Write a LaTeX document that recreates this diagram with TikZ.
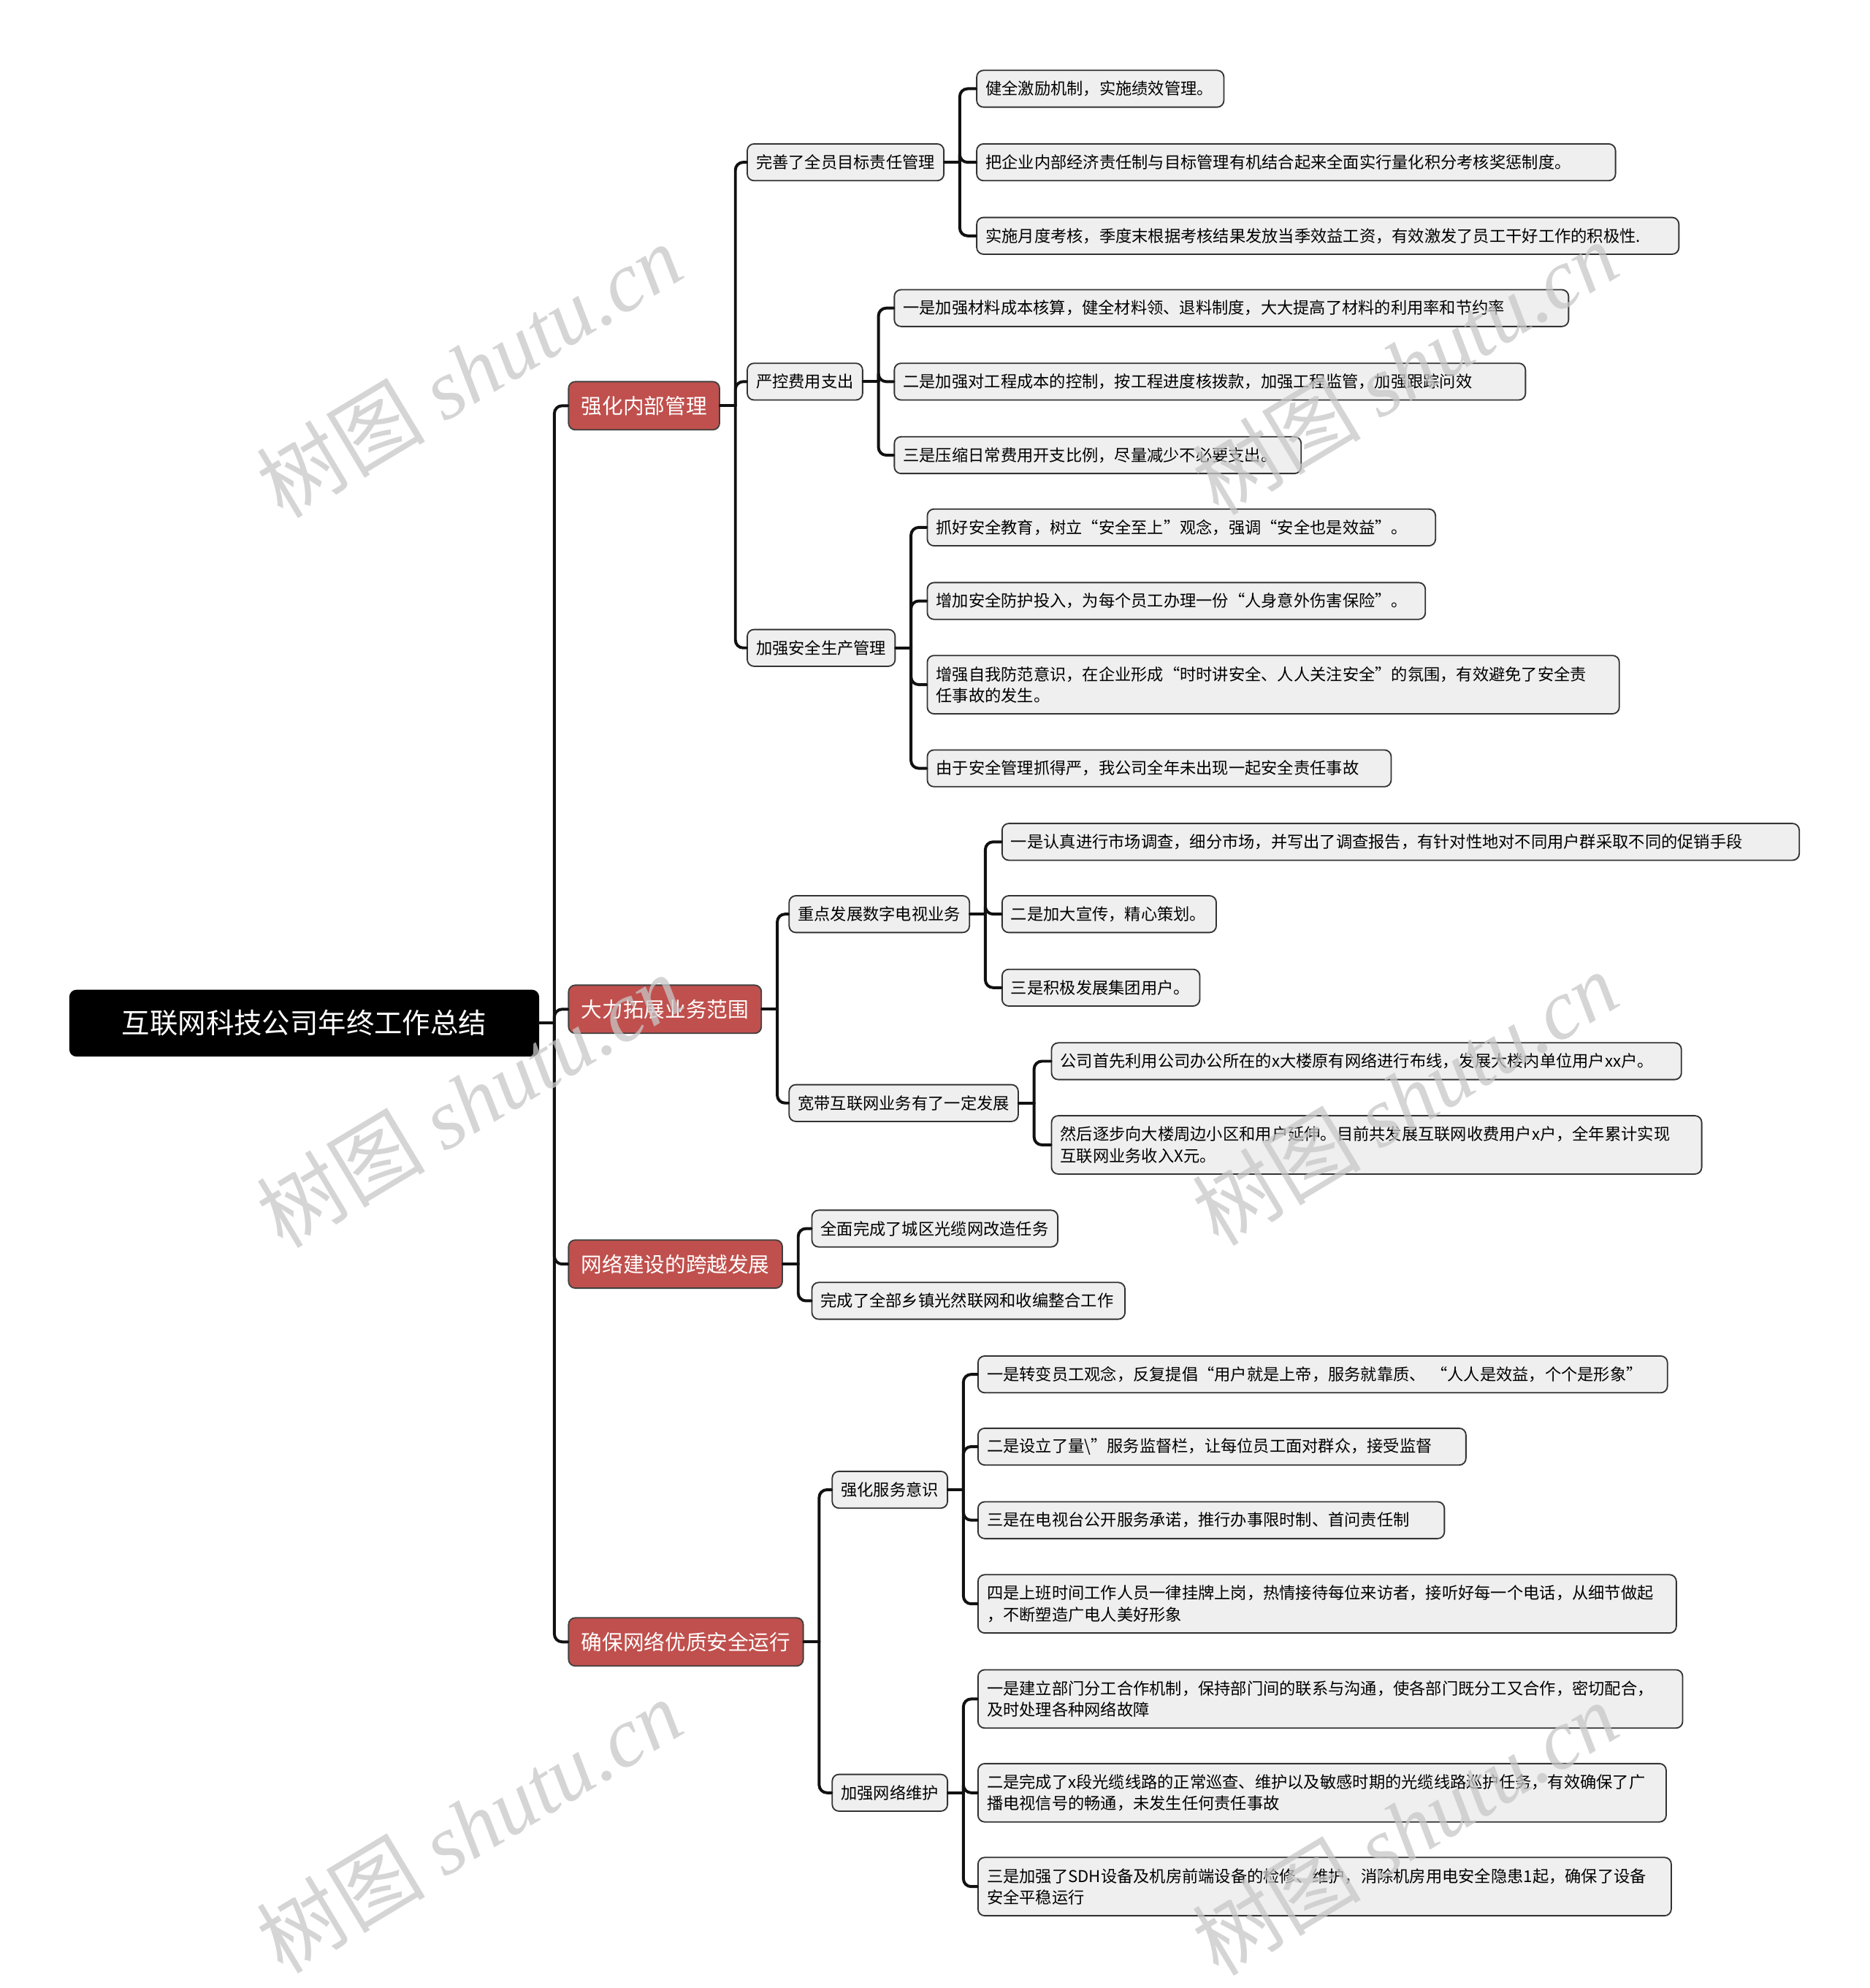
\documentclass[tikz,border=0pt]{standalone}
\usepackage{fontspec}
\setmainfont{Noto Sans CJK SC}
\newfontfamily\wmcjk{Noto Sans CJK SC}
\newfontfamily\wmlat{Liberation Serif}
\definecolor{topicred}{HTML}{C0504D}
\definecolor{leafgrey}{HTML}{EFEFEF}
\definecolor{linkblack}{HTML}{111111}

\tikzset{
  rootbox/.style={fill=black, draw=black, text=white, rounded corners=3pt,
    font=\fontsize{12.6}{15}\selectfont, minimum width=7.4cm, minimum height=1.04cm},
  mainbox/.style={fill=topicred, draw=black!75, line width=0.6pt, text=white, rounded corners=3pt,
    font=\fontsize{9.4}{11}\selectfont, inner xsep=0.2cm, minimum height=0.76cm, anchor=west},
  subbox/.style={fill=leafgrey, draw=black!80, line width=0.6pt, rounded corners=3pt,
    font=\fontsize{7.3}{9.6}\selectfont, inner xsep=0.14cm, minimum height=0.58cm, anchor=west},
  leafbox/.style={subbox, align=left, text width=#1},
  twoline/.style={minimum height=0.92cm},
  link/.style={draw=linkblack, line width=1.3pt, rounded corners=3.5pt, line cap=round},
  watermark/.style={rotate=31, text=black!22, text opacity=0.75, inner sep=0pt,
    font=\fontsize{38}{38}\selectfont}
}

\begin{document}
\begin{tikzpicture}[x=0.02cm, y=-0.02cm]

% Canvas
\useasboundingbox (0,0) rectangle (1475,1568);
\fill[white] (0,0) rectangle (1475,1568);

% Root
\node[rootbox] (root) at (240,807) {互联网科技公司年终工作总结};

% --- Main topics ---
\node[mainbox] (internal) at (448,320) {强化内部管理};
\node[mainbox] (expand) at (448,796) {大力拓展业务范围};
\node[mainbox] (network) at (448,997) {网络建设的跨越发展};
\node[mainbox] (secure) at (448,1295) {确保网络优质安全运行};

% --- Sub topics ---
\node[subbox] (target) at (589,128) {完善了全员目标责任管理};
\node[subbox] (cost) at (589,301) {严控费用支出};
\node[subbox] (safety) at (589,511) {加强安全生产管理};
\node[subbox] (tv) at (622,721) {重点发展数字电视业务};
\node[subbox] (broadband) at (622,870) {宽带互联网业务有了一定发展};
\node[subbox] (service) at (656,1175) {强化服务意识};
\node[subbox] (maint) at (656,1414) {加强网络维护};

% --- Leaves: target
\node[leafbox=3.62cm] (target1) at (770,70) {健全激励机制，实施绩效管理。};
\node[leafbox=9.80cm] (target2) at (770,128) {把企业内部经济责任制与目标管理有机结合起来全面实行量化积分考核奖惩制度。};
\node[leafbox=10.80cm] (target3) at (770,186) {实施月度考核，季度末根据考核结果发放当季效益工资，有效激发了员工干好工作的积极性.};

% --- Leaves: cost
\node[leafbox=10.36cm] (cost1) at (705,243) {一是加强材料成本核算，健全材料领、退料制度，大大提高了材料的利用率和节约率};
\node[leafbox=9.68cm] (cost2) at (705,301) {二是加强对工程成本的控制，按工程进度核拨款，加强工程监管，加强跟踪问效};
\node[leafbox=6.14cm] (cost3) at (705,359) {三是压缩日常费用开支比例，尽量减少不必要支出。};

% --- Leaves: safety
\node[leafbox=7.74cm] (safety1) at (731,416) {抓好安全教育，树立“安全至上”观念，强调“安全也是效益”。};
\node[leafbox=7.58cm] (safety2) at (731,474) {增加安全防护投入，为每个员工办理一份“人身意外伤害保险”。};
\node[leafbox=10.64cm, twoline] (safety3) at (731,540) {增强自我防范意识，在企业形成“时时讲安全、人人关注安全”的氛围，有效避免了安全责\\任事故的发生。};
\node[leafbox=7.04cm] (safety4) at (731,606) {由于安全管理抓得严，我公司全年未出现一起安全责任事故};

% --- Leaves: tv
\node[leafbox=12.30cm] (tv1) at (790,664) {一是认真进行市场调查，细分市场，并写出了调查报告，有针对性地对不同用户群采取不同的促销手段};
\node[leafbox=3.10cm] (tv2) at (790,721) {二是加大宣传，精心策划。};
\node[leafbox=2.84cm] (tv3) at (790,779) {三是积极发展集团用户。};

% --- Leaves: broadband
\node[leafbox=9.66cm] (broadband1) at (829,837) {公司首先利用公司办公所在的x大楼原有网络进行布线，发展大楼内单位用户xx户。};
\node[leafbox=9.98cm, twoline] (broadband2) at (829,903) {然后逐步向大楼周边小区和用户延伸。目前共发展互联网收费用户x户，全年累计实现\\互联网业务收入X元。};

% --- Leaves: network
\node[leafbox=3.60cm] (network1) at (640,969) {全面完成了城区光缆网改造任务};
\node[leafbox=4.66cm] (network2) at (640,1026) {完成了全部乡镇光然联网和收编整合工作};

% --- Leaves: service
\node[leafbox=10.60cm] (service1) at (771,1084) {一是转变员工观念，反复提倡“用户就是上帝，服务就靠质、 “人人是效益，个个是形象”};
\node[leafbox=7.42cm] (service2) at (771,1141) {二是设立了量\textbackslash"服务监督栏，让每位员工面对群众，接受监督};
\node[leafbox=7.08cm] (service3) at (771,1199) {三是在电视台公开服务承诺，推行办事限时制、首问责任制};
\node[leafbox=10.74cm, twoline] (service4) at (771,1265) {四是上班时间工作人员一律挂牌上岗，热情接待每位来访者，接听好每一个电话，从细节做起\\，不断塑造广电人美好形象};

% --- Leaves: maint
\node[leafbox=10.84cm, twoline] (maint1) at (771,1340) {一是建立部门分工合作机制，保持部门间的联系与沟通，使各部门既分工又合作，密切配合，\\及时处理各种网络故障};
\node[leafbox=10.58cm, twoline] (maint2) at (771,1414) {二是完成了x段光缆线路的正常巡查、维护以及敏感时期的光缆线路巡护任务，有效确保了广\\播电视信号的畅通，未发生任何责任事故};
\node[leafbox=10.66cm, twoline] (maint3) at (771,1488) {三是加强了SDH设备及机房前端设备的检修、维护，消除机房用电安全隐患1起，确保了设备\\安全平稳运行};

% --- Connectors ---
\draw[link] (root.east) -- ++(12,0) coordinate (rootj);
\foreach \c in {internal,expand,network,secure}
  \draw[link] (rootj) |- (\c.west);

\draw[link] (internal.east) -- ++(12,0) coordinate (internalj);
\foreach \c in {target,cost,safety}
  \draw[link] (internalj) |- (\c.west);

\draw[link] (expand.east) -- ++(12,0) coordinate (expandj);
\foreach \c in {tv,broadband}
  \draw[link] (expandj) |- (\c.west);

\draw[link] (network.east) -- ++(12,0) coordinate (networkj);
\foreach \c in {network1,network2}
  \draw[link] (networkj) |- (\c.west);

\draw[link] (secure.east) -- ++(12,0) coordinate (securej);
\foreach \c in {service,maint}
  \draw[link] (securej) |- (\c.west);

\draw[link] (target.east) -- ++(12,0) coordinate (targetj);
\foreach \c in {target1,target2,target3}
  \draw[link] (targetj) |- (\c.west);

\draw[link] (cost.east) -- ++(12,0) coordinate (costj);
\foreach \c in {cost1,cost2,cost3}
  \draw[link] (costj) |- (\c.west);

\draw[link] (safety.east) -- ++(12,0) coordinate (safetyj);
\foreach \c in {safety1,safety2,safety3,safety4}
  \draw[link] (safetyj) |- (\c.west);

\draw[link] (tv.east) -- ++(12,0) coordinate (tvj);
\foreach \c in {tv1,tv2,tv3}
  \draw[link] (tvj) |- (\c.west);

\draw[link] (broadband.east) -- ++(12,0) coordinate (broadbandj);
\foreach \c in {broadband1,broadband2}
  \draw[link] (broadbandj) |- (\c.west);

\draw[link] (service.east) -- ++(12,0) coordinate (servicej);
\foreach \c in {service1,service2,service3,service4}
  \draw[link] (servicej) |- (\c.west);

\draw[link] (maint.east) -- ++(12,0) coordinate (maintj);
\foreach \c in {maint1,maint2,maint3}
  \draw[link] (maintj) |- (\c.west);

% --- Watermarks ---
\foreach \wx/\wy [count=\i] in {370/292, 1108/290, 370/868, 1108/866, 370/1440, 1108/1442}
  \node[watermark] (wm\i) at (\wx,\wy) {{\wmcjk 树图} {\wmlat\itshape shutu.cn}};

\end{tikzpicture}
\end{document}
